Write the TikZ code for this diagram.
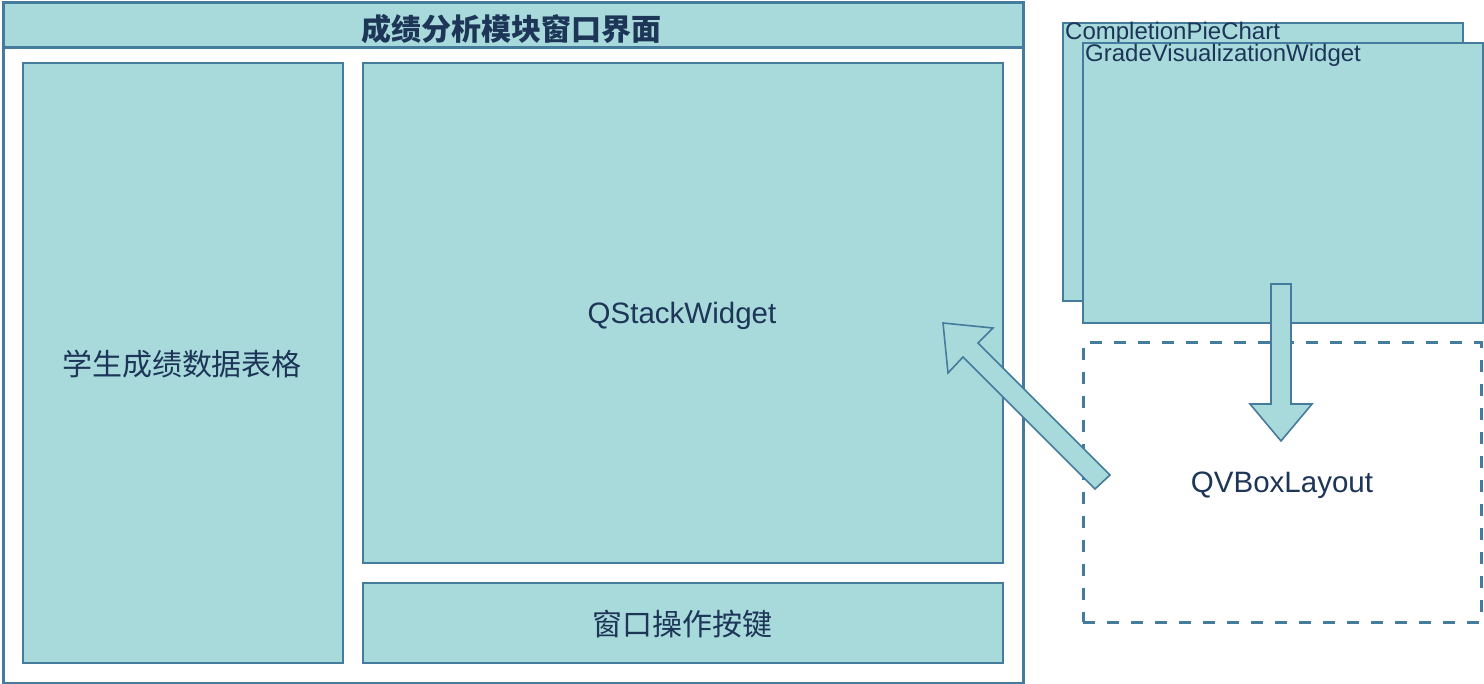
\documentclass[tikz,border=0pt]{standalone}
\usepackage{fontspec}
\setmainfont{Liberation Sans}
\newfontfamily\cjk{Noto Sans CJK SC}
\definecolor{panefill}{HTML}{A8DADC}
\definecolor{paneline}{HTML}{457B9D}
\definecolor{ink}{HTML}{1D3557}
\begin{document}
\begin{tikzpicture}[x=1pt,y=-1pt,
  pane/.style={draw=paneline,fill=panefill,line width=2pt,inner sep=0pt,text=ink},
  cjklabel/.style={font=\cjk\fontsize{30}{34}\selectfont,text=ink,inner sep=0pt},
  latnlabel/.style={font=\fontsize{29.5}{34}\selectfont,text=ink,inner sep=0pt,anchor=base},
  cornerlabel/.style={font=\fontsize{24}{28}\selectfont,text=ink,inner sep=0pt,anchor=base west},
  blockarrow/.style={draw=paneline,fill=panefill,line width=1.6pt,line join=miter}]
\useasboundingbox (0,0) rectangle (1484,684);

% main window frame with its title bar
\node[draw=paneline,line width=3pt,fill=white,minimum width=1020pt,minimum height=680pt,inner sep=0pt] (win) at (513,343) {};
\node[draw=paneline,line width=3pt,fill=panefill,minimum width=1020pt,minimum height=45pt,inner sep=0pt] (title) at (513,25.5) {};
\node[cjklabel,font=\cjk\bfseries\fontsize{30}{34}\selectfont] (titletext) at (511,29.5) {成绩分析模块窗口界面};

% content panes
\node[pane,minimum width=320pt,minimum height=600pt] (table) at (183,363) {};
\node[cjklabel] (tabletext) at (182,364) {学生成绩数据表格};
\node[pane,minimum width=640pt,minimum height=500pt] (stack) at (683,313) {};
\node[latnlabel] (stacktext) at (682,324) {QStackWidget};
\node[pane,minimum width=640pt,minimum height=80pt] (buttons) at (683,623) {};
\node[cjklabel] (buttonstext) at (682,624) {窗口操作按键};

% stacked page widgets
\node[pane,minimum width=400pt,minimum height=278pt] (pie) at (1263,162) {};
\node[cornerlabel] (pielabel) at (1065,40) {CompletionPieChart};
\node[pane,minimum width=400pt,minimum height=280pt] (grade) at (1283,183) {};
\node[cornerlabel] (gradelabel) at (1085,62) {GradeVisualizationWidget};

% layout container
\node[draw=paneline,line width=3pt,dash pattern=on 12pt off 12pt,minimum width=398pt,minimum height=279pt,
  inner sep=0pt] (layout) at (1282,482.5) {};
\node[latnlabel] (layouttext) at (1282,493) {QVBoxLayout};

% widgets go into the layout
\draw[blockarrow] (1271,284) -- (1291,284) -- (1291,404) -- (1312,404) -- (1281,441)
  -- (1250,404) -- (1271,404) -- cycle;
% layout is placed into the stacked widget
\draw[blockarrow] (1110,475) -- (1095,489) -- (963,357) -- (948,373) -- (943,323)
  -- (993,328) -- (978,343) -- cycle;
\end{tikzpicture}
\end{document}
